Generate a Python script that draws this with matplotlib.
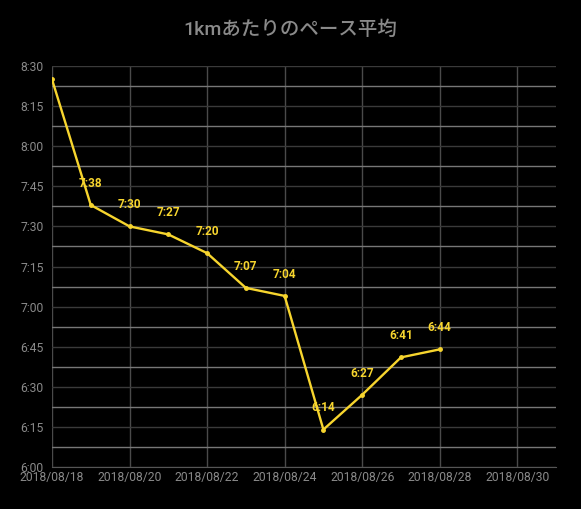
#!/usr/bin/env python3

import datetime as dt
import matplotlib.pyplot as plt
import matplotlib.dates as mdates
from matplotlib.ticker import MultipleLocator, FuncFormatter

# pace per km (min:sec) for each day
dates = ['2018-08-18', '2018-08-19', '2018-08-20', '2018-08-21', '2018-08-22',
         '2018-08-23', '2018-08-24', '2018-08-25', '2018-08-26', '2018-08-27',
         '2018-08-28']
paces = ['8:25', '7:38', '7:30', '7:27', '7:20', '7:07', '7:04', '6:14',
         '6:27', '6:41', '6:44']
show_label = [False, True, True, True, True, True, True, True, True, True, True]

title = '1kmあたりのペース平均'

YELLOW = '#f7d52e'
GRAY = '#8a8a8a'
FONT = ['Roboto', 'Noto Sans CJK JP', 'DejaVu Sans']


def to_sec(s):
    m, sec = s.split(':')
    return int(m) * 60 + int(sec)


def fmt_pace(v, pos=None):
    v = int(round(v))
    return f"{v // 60}:{v % 60:02d}"


x = [dt.datetime.strptime(d, '%Y-%m-%d') for d in dates]
y = [to_sec(p) for p in paces]  # seconds per km

plt.rcParams['font.family'] = FONT

fig = plt.figure(figsize=(5.81, 5.09), dpi=100, facecolor='black')
ax = fig.add_axes([52 / 581, 1 - 467 / 509, (556 - 52) / 581, (467 - 66) / 509])
ax.set_facecolor('black')

ax.plot(x, y, color=YELLOW, lw=1.7, marker='o', ms=2.5, zorder=3)
for xi, yi, p, show in zip(x, y, paces, show_label):
    if show:
        ax.annotate(p, (xi, yi), xytext=(0, 11), textcoords='offset points',
                    ha='center', va='bottom', color=YELLOW, fontsize=8.5,
                    fontweight='bold', zorder=4)

ax.set_ylim(6 * 60, 8.5 * 60)
ax.set_xlim(dt.datetime(2018, 8, 18), dt.datetime(2018, 8, 31))

ax.yaxis.set_major_locator(MultipleLocator(15))
ax.yaxis.set_minor_locator(MultipleLocator(7.5))
ax.yaxis.set_major_formatter(FuncFormatter(fmt_pace))
ax.xaxis.set_major_locator(mdates.DayLocator(bymonthday=range(18, 31, 2)))
ax.xaxis.set_major_formatter(mdates.DateFormatter('%Y/%m/%d'))

ax.grid(which='major', axis='y', color='#3a3a3a', lw=1)
ax.grid(which='minor', axis='y', color='#777777', lw=1)
ax.grid(which='major', axis='x', color='#4a4a4a', lw=1)
for s in ['top', 'right', 'left']:
    ax.spines[s].set_visible(False)
ax.spines['bottom'].set_color('#555555')

ax.tick_params(which='both', length=0, colors=GRAY, labelsize=8.7)
ax.tick_params(axis='y', pad=6)
ax.tick_params(axis='x', pad=3)

fig.text(0.5, 1 - 30 / 509, title, ha='center', va='center', color=GRAY,
         fontsize=14, fontweight='medium')

fig.savefig('out.png', dpi=100, facecolor='black')
